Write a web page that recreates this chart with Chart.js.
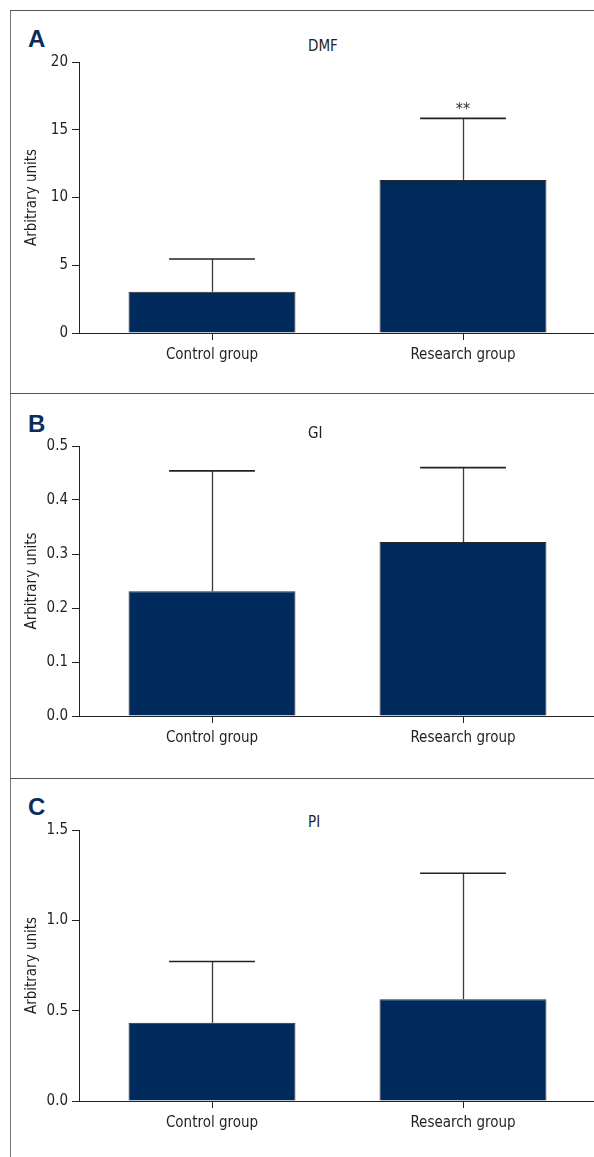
<!DOCTYPE html>
<html>
<head>
<meta charset="utf-8">
<script src="https://cdn.jsdelivr.net/npm/chart.js@4.4.1/dist/chart.umd.min.js"></script>
<style>
  html, body { margin: 0; padding: 0; background: #ffffff; }
  body { width: 594px; height: 1157px; position: relative; overflow: hidden; }
  .hline { position: absolute; left: 10px; right: 0; height: 0; border-top: 1.5px solid #555; }
  .vline { position: absolute; left: 10px; top: 11px; bottom: 0; width: 0; border-left: 1.5px solid #777; }
  .letter { position: absolute; left: 28px; font: bold 24px "Liberation Sans", "Open Sans", sans-serif; line-height: 24px; color: #0b2d5c; }
  .ptitle { position: absolute; left: 308px; font: 15px "Liberation Sans Narrow", "DejaVu Sans Condensed", sans-serif; line-height: 20px; color: #231f20; }
  canvas { position: absolute; left: 0; }
</style>
</head>
<body>
<script>
// ---- data ----
const categories = ["Control group", "Research group"];

const dmfMeans = [3.05, 11.3];
const dmfErrors = [2.41, 4.54];
const dmfTicks = [0, 5, 10, 15, 20];
const dmfMarks = ["", "**"];

const giMeans = [0.231, 0.322];
const giErrors = [0.223, 0.138];
const giTicks = [0.0, 0.1, 0.2, 0.3, 0.4, 0.5];
const giMarks = ["", ""];

const piMeans = [0.433, 0.563];
const piErrors = [0.339, 0.698];
const piTicks = [0.0, 0.5, 1.0, 1.5];
const piMarks = ["", ""];

const panelLetters = ["A", "B", "C"];
const panelTitles = ["DMF", "GI", "PI"];
const tickDecimals = [0, 1, 1];
const yTitle = "Arbitrary units";

// ---- layout (pixels) ----
const panels = [
  { top: 11, height: 383, axisTop: 62, axisBottom: 333, letterTop: 27, titleTop: 36, means: dmfMeans, errors: dmfErrors, ticks: dmfTicks, marks: dmfMarks },
  { top: 394, height: 385, axisTop: 446, axisBottom: 716, letterTop: 412, titleTop: 423, means: giMeans, errors: giErrors, ticks: giTicks, marks: giMarks },
  { top: 779, height: 378, axisTop: 830, axisBottom: 1101, letterTop: 795, titleTop: 812, means: piMeans, errors: piErrors, ticks: piTicks, marks: piMarks }
];

const FONT = '"Liberation Sans Narrow", "DejaVu Sans Condensed", sans-serif';
const FSIZE = 15;
const TEXT = '#231f20';
const AXIS_LEFT = 79;
const X_CENTER0 = 212, X_SPACING = 251, CANVAS_W = 594;

const v = document.createElement('div'); v.className = 'vline'; document.body.appendChild(v);

const errorBarPlugin = {
  id: 'errorBars',
  afterDatasetsDraw(chart, args, opts) {
    const ctx = chart.ctx;
    const meta = chart.getDatasetMeta(0);
    const ys = chart.scales.y;
    ctx.save();
    meta.data.forEach((bar, i) => {
      const top = ys.getPixelForValue(opts.means[i] + opts.errors[i]);
      const half = bar.width * 0.257;
      ctx.strokeStyle = '#3a3a3a';
      ctx.lineWidth = 1.3;
      ctx.beginPath();
      ctx.moveTo(Math.round(bar.x) + 0.5, bar.y);
      ctx.lineTo(Math.round(bar.x) + 0.5, top);
      ctx.stroke();
      ctx.strokeStyle = '#222';
      ctx.lineWidth = 1.6;
      ctx.beginPath();
      ctx.moveTo(bar.x - half, top);
      ctx.lineTo(bar.x + half, top);
      ctx.stroke();
      if (opts.marks[i]) {
        ctx.fillStyle = '#333';
        ctx.font = '16px ' + FONT;
        ctx.textAlign = 'center';
        ctx.textBaseline = 'middle';
        ctx.fillText(opts.marks[i], bar.x, top - 9);
      }
    });
    ctx.restore();
  }
};

panels.forEach((p, k) => {
  const h = document.createElement('div'); h.className = 'hline'; h.style.top = (p.top - 0.75) + 'px'; document.body.appendChild(h);
  const L = document.createElement('div'); L.className = 'letter'; L.style.top = p.letterTop + 'px'; L.textContent = panelLetters[k]; document.body.appendChild(L);
  const T = document.createElement('div'); T.className = 'ptitle'; T.style.top = p.titleTop + 'px'; T.textContent = panelTitles[k]; document.body.appendChild(T);

  const cv = document.createElement('canvas');
  const ctop = p.top + 1;
  const ch = p.height - 1;
  cv.width = CANVAS_W; cv.height = ch;
  cv.style.top = ctop + 'px';
  cv.style.width = CANVAS_W + 'px'; cv.style.height = ch + 'px';
  document.body.appendChild(cv);

  const relTop = p.axisTop - ctop;
  const relBottom = p.axisBottom - ctop;
  const xmin = -(X_CENTER0 - AXIS_LEFT) / X_SPACING;
  const xmax = xmin + (CANVAS_W - AXIS_LEFT) / X_SPACING;
  const dec = tickDecimals[k];

  new Chart(cv, {
    type: 'bar',
    data: {
      datasets: [{
        data: p.means.map((m, i) => ({ x: i, y: m })),
        backgroundColor: '#002a5c',
        borderColor: '#2a2a2a',
        borderWidth: 1,
        categoryPercentage: 1,
        barPercentage: 0.665
      }]
    },
    options: {
      responsive: false,
      animation: false,
      devicePixelRatio: 1,
      layout: { padding: { top: relTop, left: 0, right: 0, bottom: 0 } },
      plugins: {
        legend: { display: false },
        tooltip: { enabled: false },
        errorBars: { means: p.means, errors: p.errors, marks: p.marks }
      },
      scales: {
        x: {
          type: 'linear',
          offset: false,
          min: xmin, max: xmax,
          afterBuildTicks: s => { s.ticks = categories.map((c, i) => ({ value: i })); },
          afterFit: s => { s.height = ch - relBottom; },
          ticks: {
            callback: (val) => categories[val] ?? '',
            color: TEXT, font: { family: FONT, size: FSIZE }, padding: 6, maxRotation: 0, autoSkip: false
          },
          grid: { offset: false, drawOnChartArea: false, drawTicks: true, tickLength: 7, color: '#222', tickWidth: 1 },
          border: { display: true, color: '#222', width: 1 }
        },
        y: {
          type: 'linear',
          min: p.ticks[0], max: p.ticks[p.ticks.length - 1],
          afterBuildTicks: s => { s.ticks = p.ticks.map(t => ({ value: t })); },
          afterFit: s => { s.width = AXIS_LEFT; },
          ticks: {
            callback: (val) => Number(val).toFixed(dec),
            color: TEXT, font: { family: FONT, size: FSIZE }, padding: 4
          },
          grid: { drawOnChartArea: false, drawTicks: true, tickLength: 7, color: '#222', tickWidth: 1 },
          border: { display: true, color: '#222', width: 1 },
          title: { display: true, text: yTitle, color: TEXT, font: { family: FONT, size: 15 }, padding: { top: 23, bottom: 0 } }
        }
      }
    },
    plugins: [errorBarPlugin]
  });
});
</script>
</body>
</html>
